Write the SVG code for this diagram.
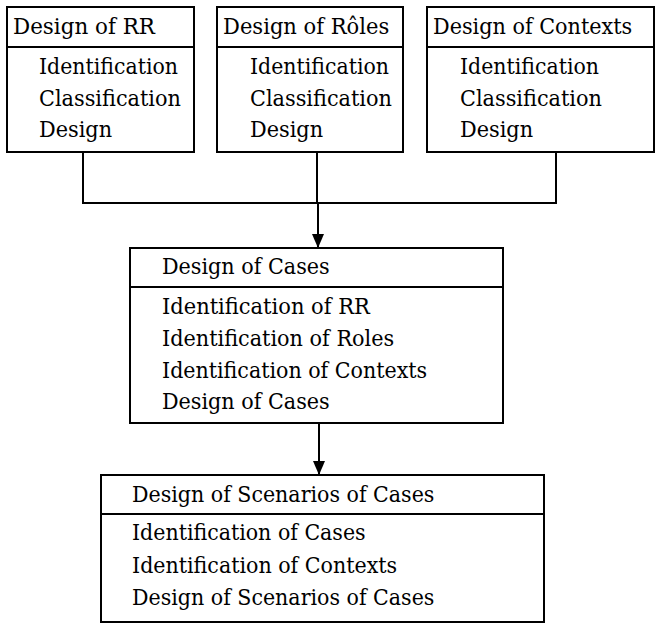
<svg xmlns="http://www.w3.org/2000/svg" width="656" height="624" viewBox="0 0 656 624">
<style>
.box{fill:#fff;stroke:#000;stroke-width:2}
.div{stroke:#000;stroke-width:2}
.t text{font-family:'DejaVu Serif',serif;font-size:23px;fill:#000}
.con{fill:none;stroke:#000;stroke-width:2}
</style>
<defs>
<marker id="ah" markerWidth="14" markerHeight="12" refX="14" refY="6" orient="auto" markerUnits="userSpaceOnUse">
<path d="M0,0 L14,6 L0,12 Z" fill="#000"/>
</marker>
</defs>
<rect width="656" height="624" fill="#fff"/>
<g id="connectors">
<path class="con" d="M83,152 V203 H556 V152"/>
<path class="con" d="M317,152 V203"/>
<path class="con" d="M318,203 V248" marker-end="url(#ah)"/>
<path class="con" d="M319,423 V475" marker-end="url(#ah)"/>
</g>
<g class="t">
<g id="rr">
<rect class="box" x="7" y="7" width="187" height="145"/>
<line class="div" x1="7" y1="47" x2="194" y2="47"/>
<text x="13" y="34" textLength="141.9" lengthAdjust="spacingAndGlyphs">Design of RR</text>
<text x="39" y="74" textLength="139" lengthAdjust="spacingAndGlyphs">Identification</text>
<text x="39" y="106" textLength="141.9" lengthAdjust="spacingAndGlyphs">Classification</text>
<text x="39" y="137" textLength="73.1" lengthAdjust="spacingAndGlyphs">Design</text>
</g>
<g id="roles">
<rect class="box" x="217" y="7" width="186" height="145"/>
<line class="div" x1="217" y1="47" x2="403" y2="47"/>
<text x="223" y="34" textLength="166.3" lengthAdjust="spacingAndGlyphs">Design of Rôles</text>
<text x="250" y="74" textLength="139" lengthAdjust="spacingAndGlyphs">Identification</text>
<text x="250" y="106" textLength="141.9" lengthAdjust="spacingAndGlyphs">Classification</text>
<text x="250" y="137" textLength="73.1" lengthAdjust="spacingAndGlyphs">Design</text>
</g>
<g id="contexts">
<rect class="box" x="427" y="7" width="227" height="145"/>
<line class="div" x1="427" y1="47" x2="654" y2="47"/>
<text x="433" y="34" textLength="199.2" lengthAdjust="spacingAndGlyphs">Design of Contexts</text>
<text x="460" y="74" textLength="139" lengthAdjust="spacingAndGlyphs">Identification</text>
<text x="460" y="106" textLength="141.9" lengthAdjust="spacingAndGlyphs">Classification</text>
<text x="460" y="137" textLength="73.1" lengthAdjust="spacingAndGlyphs">Design</text>
</g>
<g id="cases">
<rect class="box" x="130" y="248" width="373" height="175"/>
<line class="div" x1="130" y1="287" x2="503" y2="287"/>
<text x="162" y="274" textLength="167.7" lengthAdjust="spacingAndGlyphs">Design of Cases</text>
<text x="162" y="314" textLength="207.8" lengthAdjust="spacingAndGlyphs">Identification of RR</text>
<text x="162" y="346" textLength="232.2" lengthAdjust="spacingAndGlyphs">Identification of Roles</text>
<text x="162" y="378" textLength="265.1" lengthAdjust="spacingAndGlyphs">Identification of Contexts</text>
<text x="162" y="409" textLength="167.7" lengthAdjust="spacingAndGlyphs">Design of Cases</text>
</g>
<g id="scenarios">
<rect class="box" x="101" y="475" width="443" height="147"/>
<line class="div" x1="101" y1="514" x2="544" y2="514"/>
<text x="132" y="502" textLength="302.4" lengthAdjust="spacingAndGlyphs">Design of Scenarios of Cases</text>
<text x="132" y="540" textLength="233.6" lengthAdjust="spacingAndGlyphs">Identification of Cases</text>
<text x="132" y="573" textLength="265.1" lengthAdjust="spacingAndGlyphs">Identification of Contexts</text>
<text x="132" y="605" textLength="302.4" lengthAdjust="spacingAndGlyphs">Design of Scenarios of Cases</text>
</g>
</g>
</svg>
